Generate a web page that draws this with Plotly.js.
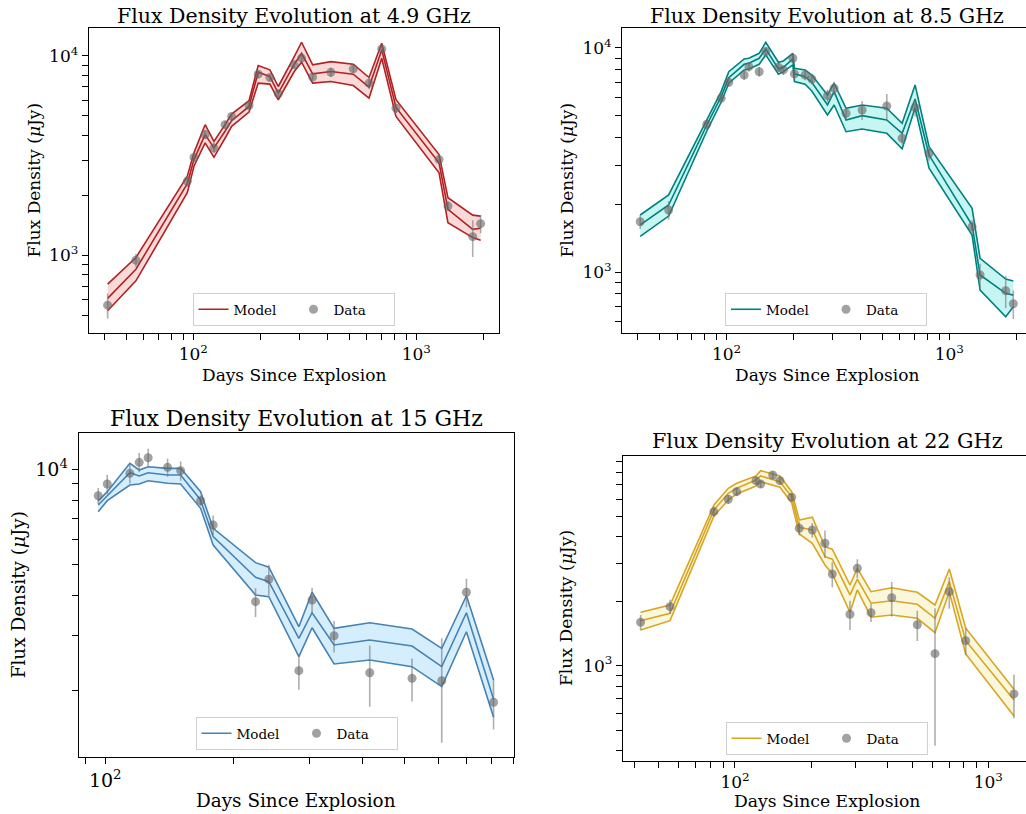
<!DOCTYPE html>
<html><head><meta charset="utf-8">
<script src="https://cdn.plot.ly/plotly-3.0.1.min.js"></script>
<style>html,body{margin:0;padding:0;overflow:hidden;background:#fff}#chart{width:1040px;height:814px}</style>
</head><body><div id="chart"></div>
<script>
// ---------- 4.9 GHz ----------
const days49 = [41.3, 55.3, 94, 100.7, 113, 123.8, 138.8, 148.6, 177.8, 195.5, 220.6, 240.5, 283.7, 306, 343, 414, 522, 614, 700, 811, 1265, 1387, 1791, 1944];
const flux49 = [562, 944, 2350, 3095, 4030, 3455, 4520, 4970, 5640, 8100, 7790, 6460, 9020, 9740, 7830, 8280, 8610, 7300, 10840, 5470, 3020, 1764, 1240, 1440];
const err49  = [80, 70, 150, 150, 200, 200, 200, 200, 250, 300, 300, 300, 350, 400, 300, 450, 400, 500, 450, 300, 150, 100, 260, 150];
const mid49  = [608, 851, 2284, 3020, 4027, 3456, 4188, 4732, 5578, 8288, 7880, 6509, 9088, 10300, 8128, 8348, 8100, 6976, 10715, 5514, 2908, 1698, 1349, 1365];
const lo49   = [527, 744, 2058, 2796, 3660, 3101, 3864, 4431, 5230, 7305, 7220, 6026, 8348, 9300, 7305, 7437, 7103, 6146, 9739, 4972, 2592, 1457, 1226, 1189];
const hi49   = [716, 974, 2492, 3263, 4519, 3728, 4519, 5111, 5957, 8945, 8511, 7023, 9920, 11710, 9016, 9365, 9088, 7792, 11574, 6026, 3199, 1944, 1590, 1572];

// ---------- 8.5 GHz ----------
const days85 = [41.0, 55.0, 81.6, 94.6, 102.4, 120, 126, 140.2, 150, 171, 180, 198.5, 201.8, 225.4, 241.5, 283.9, 304, 344, 406, 524, 614, 702, 811, 1265, 1374, 1791, 1937];
const flux85 = [1677, 1892, 4560, 5957, 7030, 7577, 8251, 7834, 9630, 8203, 7980, 8995, 7660, 7577, 7270, 6124, 6607, 5111, 5284, 5508, 3953, 5415, 3390, 1592, 970, 825, 722];
const err85  = [120, 180, 250, 300, 300, 380, 400, 380, 400, 400, 400, 450, 400, 400, 400, 400, 450, 300, 510, 720, 240, 470, 250, 110, 120, 135, 105];
const mid85  = [1622, 1991, 4529, 6062, 7368, 8453, 8547, 8995, 9897, 8067, 8200, 8932, 7661, 7447, 7030, 5566, 6383, 4772, 4989, 4772, 4159, 5916, 3327, 1622, 970, 804, 789];
const lo85   = [1443, 1778, 4260, 5722, 6960, 7976, 8054, 8453, 9307, 7630, 7838, 8403, 7080, 6887, 6427, 5023, 5566, 4229, 4345, 4159, 3551, 5408, 2908, 1462, 831, 632, 700];
const hi85   = [1797, 2208, 4772, 6383, 7834, 8932, 8995, 9462, 10600, 8630, 8750, 9462, 8118, 7976, 7568, 6166, 6960, 5379, 5566, 5379, 4611, 6839, 3626, 1923, 1151, 931, 912];

// ---------- 15 GHz ----------
const days15 = [96.3, 101.1, 114.2, 120.1, 126, 139.9, 150.1, 167.1, 178.8, 224.6, 241.3, 283.6, 304.5, 342.8, 415.4, 521.6, 612, 699, 809];
const flux15 = [8254, 8987, 9714, 10522, 10880, 10146, 9900, 7962, 6673, 3823, 4498, 2316, 3870, 2985, 2282, 2191, 2153, 4093, 1841];
const err15  = [480, 630, 700, 730, 730, 680, 690, 300, 480, 400, 500, 300, 360, 340, 500, 340, 780, 420, 330];
const mid15  = [7716, 8238, 9757, 9526, 9757, 9594, 9594, 8003, 6131, 4564, 4420, 2931, 3528, 2791, 2894, 2771, 2385, 3528, 1881];
const lo15   = [7349, 7962, 8924, 8987, 9204, 9033, 8987, 7534, 5770, 4012, 3963, 2564, 3164, 2432, 2503, 2385, 2063, 3073, 1651];
const hi15   = [7943, 8500, 10447, 9949, 10191, 10070, 10070, 8500, 6516, 5076, 4909, 3188, 4093, 3150, 3281, 3135, 2725, 3991, 2165];

// ---------- 22 GHz ----------
const days22 = [42.4, 55.4, 82.6, 94.1, 101.6, 121, 126.3, 140.9, 150.5, 167.4, 179.4, 201.9, 226.6, 242.2, 284.4, 304, 344.3, 415.6, 524.5, 616, 701.5, 814.4, 1263];
const flux22 = [1595, 1887, 5244, 5994, 6502, 7319, 7064, 7780, 7319, 6122, 4385, 4306, 3733, 2682, 1738, 2851, 1769, 2079, 1554, 1138, 2217, 1309, 738];
const err22  = [130, 145, 300, 300, 300, 300, 300, 300, 300, 250, 320, 340, 550, 360, 270, 290, 170, 380, 250, 716, 370, 190, 170];
const mid22  = [1623, 1757, 5341, 6391, 6745, 7374, 7697, 7430, 7240, 6161, 4434, 4307, 3231, 3143, 2140, 2534, 1957, 2012, 1936, 1665, 2469, 1309, 691];
const lo22   = [1468, 1623, 5006, 5948, 6343, 6914, 7240, 6987, 6817, 5777, 4125, 3733, 2955, 2682, 1776, 2258, 1684, 1726, 1665, 1426, 2217, 1134, 582];
const hi22   = [1776, 1921, 5636, 6745, 7118, 7697, 8150, 7867, 7697, 6502, 4796, 4938, 3597, 3499, 2382, 2851, 2217, 2314, 2203, 1921, 2831, 1496, 776];

// ---------- ticks ----------
const majorXwide = [100, 1000];
const minorXwide = [40,50,60,70,80,90,200,300,400,500,600,700,800,900,2000];
const majorX15   = [100];
const minorX15   = [90,200,300,400,500,600,700,800,900];
const majorY49   = [1000, 10000];
const minorY49   = [500,600,700,800,900,2000,3000,4000,5000,6000,7000,8000,9000];
const majorY85   = [1000, 10000];
const minorY85   = [600,700,800,900,2000,3000,4000,5000,6000,7000,8000,9000];
const majorY15   = [10000];
const minorY15   = [2000,3000,4000,5000,6000,7000,8000,9000];
const majorY22   = [1000];
const minorY22   = [400,500,600,700,800,900,2000,3000,4000,5000,6000,7000,8000,9000];
const majorLabels = {100:'10<sup>2</sup>', 1000:'10<sup>3</sup>', 10000:'10<sup>4</sup>'};

const titles = ['Flux Density Evolution at 4.9 GHz','Flux Density Evolution at 8.5 GHz','Flux Density Evolution at 15 GHz','Flux Density Evolution at 22 GHz'];
const xLabel = 'Days Since Explosion';
const yLabel = 'Flux Density (<i>μ</i>Jy)';
const modelName = 'Model', dataName = 'Data';

const W = 1040, H = 814;
const FONT = 'DejaVu Serif, serif';
const fx = p => p / W, fy = p => 1 - p / H;

const panels = [
  {days:days49, flux:flux49, err:err49, mid:mid49, lo:lo49, hi:hi49, color:'#b22222', fill:'rgba(240,128,128,0.3)',
   box:[88.7,499,28,333], xr:[1.531,3.371], yr:[2.61,4.14], xM:majorXwide, xm:minorXwide, yM:majorY49, ym:minorY49,
   fs:17, tfs:20.5, lfs:17, titleY:16, xlabY:375, ylabX:33, leg:[293.5,326]},
  {days:days85, flux:flux85, err:err85, mid:mid85, lo:lo85, hi:hi85, color:'#008080', fill:'rgba(64,224,208,0.3)',
   box:[622,1032,28,333], xr:[1.531,3.371], yr:[2.728,4.089], xM:majorXwide, xm:minorXwide, yM:majorY85, ym:minorY85,
   fs:17, tfs:20.5, lfs:17, titleY:16, xlabY:375, ylabX:566, leg:[826,326]},
  {days:days15, flux:flux15, err:err15, mid:mid15, lo:lo15, hi:hi15, color:'#4682b4', fill:'rgba(135,206,250,0.35)',
   box:[78.7,513.7,433.3,757.3], xr:[1.938,2.955], yr:[3.0915,4.1136], xM:majorX15, xm:minorX15, yM:majorY15, ym:minorY15,
   fs:19, tfs:22, lfs:18.4, titleY:418, xlabY:800, ylabX:18, leg:[296.5,750]},
  {days:days22, flux:flux22, err:err22, mid:mid22, lo:lo22, hi:hi22, color:'#daa520', fill:'rgba(240,230,140,0.3)',
   box:[622.7,1032,455.5,760.7], xr:[1.5567,3.1725], yr:[2.556,3.982], xM:majorXwide, xm:minorXwide, yM:majorY22, ym:minorY22,
   fs:17, tfs:20.7, lfs:17.2, titleY:441, xlabY:801, ylabX:566, leg:[826.5,755]}
];

const traces = [];
const layout = {width:W, height:H, margin:{l:0,r:0,t:0,b:0}, paper_bgcolor:'#fff', plot_bgcolor:'#fff',
  font:{family:FONT, color:'#000'}, annotations:[], showlegend:true};

panels.forEach((p, i) => {
  const s = i === 0 ? '' : String(i + 1);
  const xa = 'x' + s, ya = 'y' + s, lg = 'legend' + s;
  const common = {x:p.days, xaxis:xa, yaxis:ya, hoverinfo:'skip', legend:lg};
  traces.push(Object.assign({}, common, {y:p.lo, mode:'lines', line:{color:p.color, width:1.6}, showlegend:false}));
  traces.push(Object.assign({}, common, {y:p.hi, mode:'lines', line:{color:p.color, width:1.6}, fill:'tonexty', fillcolor:p.fill, showlegend:false}));
  traces.push(Object.assign({}, common, {y:p.mid, mode:'lines', name:modelName, line:{color:p.color, width:1.6}}));
  traces.push(Object.assign({}, common, {y:p.flux, mode:'markers', name:dataName,
    marker:{color:'rgba(100,100,100,0.6)', size:9},
    error_y:{type:'data', array:p.err, visible:true, color:'rgba(120,120,120,0.6)', thickness:1.6, width:0}}));

  const [x0, x1, y0, y1] = p.box;
  const axBase = {type:'log', showline:true, mirror:true, linecolor:'#000', linewidth:1, ticks:'outside', ticklen:6,
    tickwidth:1, tickcolor:'#000', showgrid:false, zeroline:false, fixedrange:true,
    tickfont:{family:FONT, size:p.fs, color:'#000'}};
  const minorBase = {ticks:'outside', ticklen:6, tickwidth:1, tickcolor:'#000', showgrid:false};
  layout['xaxis' + s] = Object.assign({}, axBase, {domain:[fx(x0), fx(x1)], range:p.xr, anchor:ya,
    tickvals:p.xM, ticktext:p.xM.map(v => majorLabels[v]), minor:Object.assign({tickvals:p.xm}, minorBase)});
  layout['yaxis' + s] = Object.assign({}, axBase, {domain:[fy(y1), fy(y0)], range:p.yr, anchor:xa,
    tickvals:p.yM, ticktext:p.yM.map(v => majorLabels[v]), minor:Object.assign({tickvals:p.ym}, minorBase)});
  layout[lg] = {orientation:'h', traceorder:'normal', x:fx(p.leg[0]), y:fy(p.leg[1]), xanchor:'center', yanchor:'bottom',
    xref:'paper', yref:'paper', bgcolor:'rgba(255,255,255,0.85)', bordercolor:'#d0d0d0', borderwidth:1,
    font:{family:FONT, size:13.5, color:'#000'}, entrywidth:55};

  const cx = (x0 + x1) / 2, cy = (y0 + y1) / 2;
  layout.annotations.push({text:titles[i], x:fx(cx), y:fy(p.titleY), xref:'paper', yref:'paper', xanchor:'center', yanchor:'middle',
    showarrow:false, font:{family:FONT, size:p.tfs, color:'#000'}});
  layout.annotations.push({text:xLabel, x:fx(cx), y:fy(p.xlabY), xref:'paper', yref:'paper', xanchor:'center', yanchor:'middle',
    showarrow:false, font:{family:FONT, size:p.lfs, color:'#000'}});
  layout.annotations.push({text:yLabel, x:fx(p.ylabX), y:fy(cy), xref:'paper', yref:'paper', xanchor:'center', yanchor:'middle',
    textangle:-90, showarrow:false, font:{family:FONT, size:p.lfs, color:'#000'}});
});

Plotly.newPlot('chart', traces, layout, {displayModeBar:false, staticPlot:true});
</script></body></html>
